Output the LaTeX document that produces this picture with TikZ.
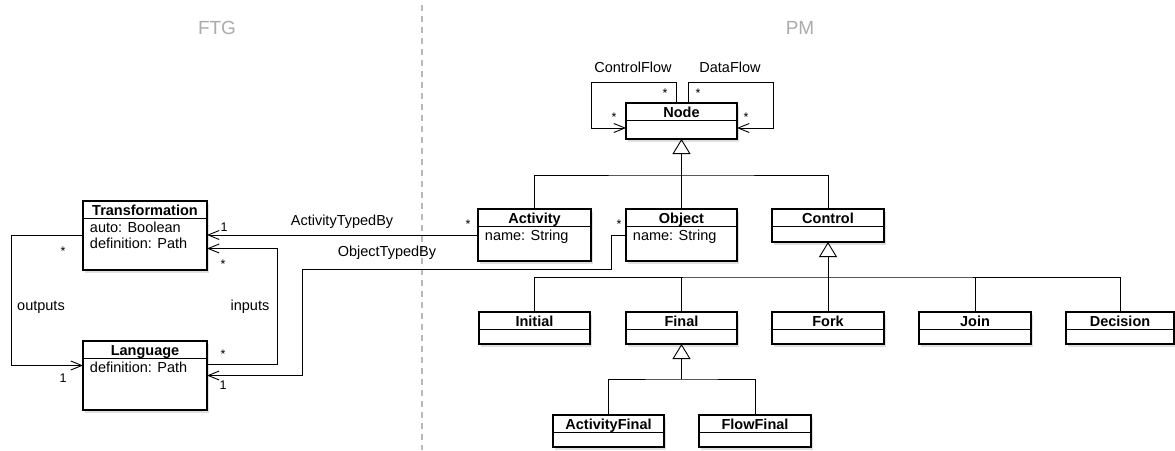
\documentclass[tikz,border=0pt]{standalone}
\usepackage{fontspec}
\setmainfont{Liberation Sans}
\usepackage{tikz}
\usetikzlibrary{arrows.meta,shadows}

% class box: name, top-left corner, width, height, class name, attributes
\newcommand{\umlclass}[6]{%
  \node[classbox, minimum width=#3, minimum height=#4, anchor=north west] (#1) at (#2) {};
  \node[classname, minimum width=#3, anchor=north] (#1-name) at (#1.north) {#5};
  \draw (#1-name.south west) -- (#1-name.south east);
  \node[classattr, anchor=north west] (#1-attr) at (#1-name.south west) {#6};
}

\begin{document}
\begin{tikzpicture}[
  x=1pt, y=-1pt, line width=0.9pt, color=black,
  classbox/.style={draw, fill=white, line width=1.1pt, inner sep=0pt, outer sep=0pt,
    drop shadow={shadow xshift=2pt, shadow yshift=-2.5pt, opacity=0.25}},
  classname/.style={inner sep=0pt, outer sep=0pt, minimum height=17.5pt, text height=10.5pt, text depth=0pt,
    font=\fontsize{14.5}{16}\selectfont\bfseries},
  classattr/.style={inner xsep=6.5pt, inner ysep=3.5pt, align=left, font=\fontsize{14.5}{16}\selectfont},
  assoclabel/.style={inner sep=0pt, font=\fontsize{14.5}{16}\selectfont},
  mult/.style={inner sep=0pt, font=\fontsize{12.5}{14}\selectfont},
  region/.style={font=\fontsize{19}{22}\selectfont, text=black!33},
  assoc/.style={-{Straight Barb[length=11pt,width=9pt]}},
  inherit/.style={-{Triangle[open,length=15pt,width=18pt]}},
  divider/.style={draw=black!28, line width=1.5pt, dash pattern=on 6pt off 5pt}
]
\useasboundingbox (0,0) rectangle (1175,450);

\draw[divider] (422,5) -- (422,450);
\node[region] (ftg) at (217,28) {FTG};
\node[region] (pm) at (800,28) {PM};

% FTG side
\umlclass{trans}{83,201}{124pt}{69pt}{Transformation}{auto: Boolean\\definition: Path}
\umlclass{lang}{83,341}{124pt}{69pt}{Language}{definition: Path}

% PM side
\umlclass{node}{626,103}{111pt}{36pt}{Node}{}
\umlclass{activity}{478,209}{113pt}{52pt}{Activity}{name: String}
\umlclass{object}{626,209}{111pt}{52pt}{Object}{name: String}
\umlclass{control}{772,209}{112pt}{33pt}{Control}{}
\umlclass{initial}{479,312}{111pt}{32pt}{Initial}{}
\umlclass{final}{626,312}{111pt}{32pt}{Final}{}
\umlclass{fork}{772,312}{112pt}{32pt}{Fork}{}
\umlclass{join}{919,312}{112pt}{32pt}{Join}{}
\umlclass{decision}{1066,312}{108pt}{32pt}{Decision}{}
\umlclass{actfinal}{553,415}{111pt}{32pt}{ActivityFinal}{}
\umlclass{flowfinal}{699,415}{112pt}{32pt}{FlowFinal}{}

% generalisations
\coordinate (nodebar) at (node.south |- 0,175);
\coordinate (ctrlbar) at (control.south |- 0,277);
\coordinate (finalbar) at (final.south |- 0,379);
\draw[inherit] (nodebar) -- (node.south);
\draw (activity.north) |- (nodebar) -| (control.north);
\draw (object.north) -- (nodebar);
\draw[inherit] (ctrlbar) -- (control.south);
\draw (initial.north) |- (ctrlbar) -| (decision.north);
\draw (final.north) -- (final.north |- ctrlbar);
\draw (fork.north) -- (ctrlbar);
\draw (join.north) -- (join.north |- ctrlbar);
\draw[inherit] (finalbar) -- (final.south);
\draw (actfinal.north) |- (finalbar) -| (flowfinal.north);

% associations
\draw[assoc] ([xshift=-5pt]node.north) |- (591,82) |- ([yshift=-7pt]node.west);
\draw[assoc] ([xshift=7pt]node.north) |- (773,82) |- ([yshift=-7pt]node.east);
\draw[assoc] (trans.west) -- ++(-72,0) |- ([yshift=10pt]lang.west);
\draw[assoc] ([yshift=11pt]lang.east) -- ++(70,0) |- ([yshift=-13pt]trans.east);
\draw[assoc] (activity.west) -- (activity.west -| trans.east);
\draw[assoc] (object.west) -- ++(-15,0) |- (302,269) |- (lang.east);

\node[assoclabel] (cflow) at (633,67) {ControlFlow};
\node[assoclabel] (dflow) at (730,67) {DataFlow};
\node[assoclabel] (outputs) at (41,307) {outputs};
\node[assoclabel] (inputs) at (250,307) {inputs};
\node[assoclabel] (acttyped) at (342,222) {ActivityTypedBy};
\node[assoclabel] (objtyped) at (387,253) {ObjectTypedBy};

\node[mult] (cflow-src) at (665,93) {*};
\node[mult] (cflow-dst) at (614,117) {*};
\node[mult] (dflow-src) at (698,93) {*};
\node[mult] (dflow-dst) at (746,117) {*};
\node[mult] (out-src) at (63,251) {*};
\node[mult] (out-dst) at (63,378) {1};
\node[mult] (in-dst) at (223,264) {*};
\node[mult] (in-src) at (223,354) {*};
\node[mult] (act-dst) at (224,227) {1};
\node[mult] (act-src) at (468,224) {*};
\node[mult] (obj-dst) at (223,385) {1};
\node[mult] (obj-src) at (619,224) {*};
\end{tikzpicture}
\end{document}
